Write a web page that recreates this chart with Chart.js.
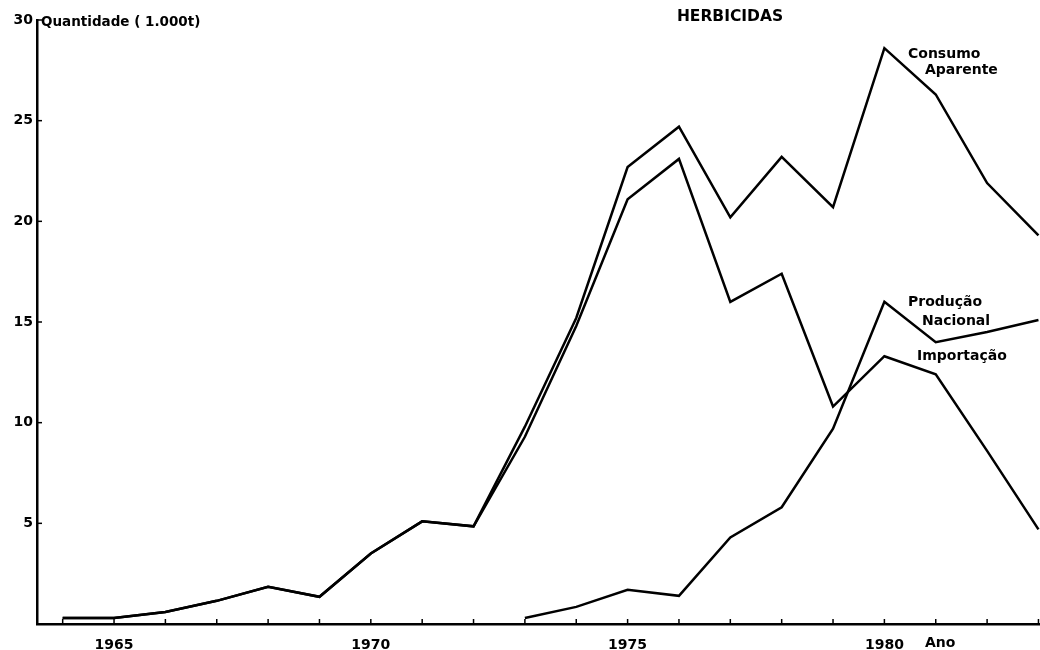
<!DOCTYPE html>
<html>
<head>
<meta charset="utf-8">
<script src="https://cdn.jsdelivr.net/npm/chart.js@4/dist/chart.umd.min.js"></script>
<style>
html,body{margin:0;padding:0;background:#fff;}
#wrap{width:1040px;height:650px;position:relative;}
canvas{display:block;}
</style>
</head>
<body>
<div id="wrap"><canvas id="c" width="1040" height="650"></canvas></div>
<script>
// ---- data ----
const years = [1964,1965,1966,1967,1968,1969,1970,1971,1972,1973,1974,1975,1976,1977,1978,1979,1980,1981,1982,1983];
const consumoAparente = [0.3,0.3,0.6,1.15,1.85,1.35,3.5,5.1,4.85,9.8,15.2,22.7,24.7,20.2,23.2,20.7,28.6,26.3,21.9,19.3];
const producaoNacional = [0.3,0.3,0.6,1.15,1.85,1.35,3.5,5.1,4.85,9.3,14.8,21.1,23.1,16.0,17.4,10.8,13.3,12.4,8.6,4.7];
const importacao = [null,null,null,null,null,null,null,null,null,0.3,0.85,1.7,1.4,4.3,5.8,9.7,16.0,14.0,14.5,15.1];
const yTickValues = [5,10,15,20,25,30];
const xLabelYears = [1965,1970,1975,1980];

const titleText = 'HERBICIDAS';
const yAxisTitle = 'Quantidade ( 1.000t)';
const xAxisTitle = 'Ano';
const seriesLabels = {
  consumo: ['Consumo', 'Aparente'],
  producao: ['Produção', 'Nacional'],
  importacao: ['Importação']
};

const toPoints = arr => years.map((yr, i) => ({x: yr, y: arr[i]}));

const FONT = "'DejaVu Sans', 'Liberation Sans', sans-serif";

const annotations = {
  id: 'annotations',
  afterDraw(chart) {
    const {ctx, scales: {x, y}} = chart;
    ctx.save();
    ctx.strokeStyle = '#000';
    ctx.lineWidth = 1.5;
    const y0 = y.getPixelForValue(0);
    years.forEach(v => {
      const px = x.getPixelForValue(v);
      ctx.beginPath(); ctx.moveTo(px, y0); ctx.lineTo(px, y0 - 5); ctx.stroke();
    });
    yTickValues.forEach(v => {
      const py = y.getPixelForValue(v);
      ctx.beginPath(); ctx.moveTo(x.left, py); ctx.lineTo(x.left + 5, py); ctx.stroke();
    });
    ctx.fillStyle = '#000';
    ctx.textBaseline = 'middle';
    ctx.textAlign = 'left';
    ctx.font = `bold 13.5px ${FONT}`;
    ctx.fillText(yAxisTitle, 41, 22);
    ctx.font = `bold 15.5px ${FONT}`;
    ctx.textAlign = 'center';
    ctx.fillText(titleText, 730, 17);
    ctx.textAlign = 'left';
    ctx.font = `bold 14px ${FONT}`;
    ctx.fillText(seriesLabels.consumo[0], 908, 54);
    ctx.fillText(seriesLabels.consumo[1], 925, 70);
    ctx.fillText(seriesLabels.producao[0], 908, 302);
    ctx.fillText(seriesLabels.producao[1], 922, 321);
    ctx.fillText(seriesLabels.importacao[0], 917, 356);
    ctx.fillText(xAxisTitle, 925, 643);
    ctx.restore();
  }
};

const lineStyle = {
  borderColor: '#000',
  borderWidth: 2.5,
  pointRadius: 0,
  tension: 0,
  fill: false,
  spanGaps: false,
  borderJoinStyle: 'miter'
};

new Chart(document.getElementById('c'), {
  type: 'line',
  data: {
    datasets: [
      Object.assign({label: 'Consumo Aparente', data: toPoints(consumoAparente)}, lineStyle),
      Object.assign({label: 'Produção Nacional', data: toPoints(producaoNacional)}, lineStyle),
      Object.assign({label: 'Importação', data: toPoints(importacao)}, lineStyle)
    ]
  },
  options: {
    responsive: false,
    animation: false,
    devicePixelRatio: 1,
    layout: {padding: {top: 20, right: 0, left: 0, bottom: 0}},
    plugins: {legend: {display: false}, tooltip: {enabled: false}, title: {display: false}},
    scales: {
      x: {
        type: 'linear',
        min: 1963.5,
        max: 1983.03,
        grid: {display: false},
        border: {display: true, color: '#000', width: 2.5},
        afterBuildTicks: axis => { axis.ticks = years.map(v => ({value: v})); },
        afterFit: s => { s.height = 26; s.paddingLeft = 0; s.paddingRight = 0; },
        ticks: {
          autoSkip: false,
          maxRotation: 0,
          padding: 5,
          color: '#000',
          font: {family: FONT, size: 14, weight: 'bold'},
          callback: v => xLabelYears.includes(v) ? String(v) : ''
        }
      },
      y: {
        min: 0,
        max: 30,
        grid: {display: false, drawTicks: false},
        border: {display: true, color: '#000', width: 2.5},
        afterBuildTicks: axis => { axis.ticks = yTickValues.map(v => ({value: v})); },
        afterFit: s => { s.width = 37; },
        ticks: {
          padding: 4,
          color: '#000',
          font: {family: FONT, size: 14, weight: 'bold'}
        }
      }
    }
  },
  plugins: [annotations]
});
</script>
</body>
</html>
